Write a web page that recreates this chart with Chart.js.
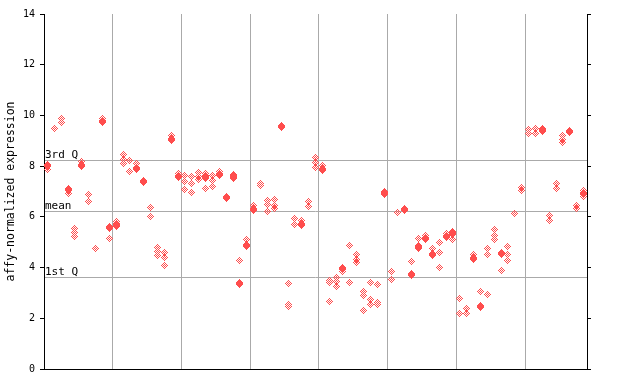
<!DOCTYPE html>
<html><head><meta charset="utf-8">
<script src="https://cdn.jsdelivr.net/npm/chart.js@4/dist/chart.umd.min.js"></script>
<style>html,body{margin:0;padding:0;background:#fff;}</style>
</head><body>
<canvas id="c" width="640" height="384"></canvas>
<script>
// replicate values per sample (hatched markers)
const hatchedValues = [
  [7.85],[9.50],[9.86,9.74],[6.93],[5.55,5.40,5.23],[8.17],[6.90,6.62],[4.77],[9.86],[5.15],
  [5.81,5.62],[8.44,8.27,8.11],[8.24,7.77],[8.12],[],[6.36,6.02],[4.81,4.65,4.48],[4.60,4.40,4.07],[9.19],[7.71],
  [7.63,7.41,7.06],[7.60,7.32,6.98],[7.74,7.61,7.48],[7.70,7.52,7.13],[7.64,7.44,7.20],[7.77],[],[7.68,7.50],[4.28],[5.09],
  [6.45],[7.33,7.25],[6.66,6.47,6.22],[6.69,6.43,6.34],[],[3.38,2.56,2.46],[5.95,5.70],[5.85],[6.62,6.40],[8.36,8.16,7.96],
  [8.04],[3.50,3.42,2.68],[3.62,3.47,3.27],[3.84],[4.86,3.42],[4.52,4.30,4.21],[3.05,2.89,2.31],[3.42,2.76,2.56],[3.34,2.64,2.55],[6.99],
  [3.85,3.54],[6.18],[],[4.25],[5.15,4.75],[5.28],[4.76],[4.99,4.60,4.01],[5.35],[5.43,5.12],
  [2.79,2.17],[2.37,2.20],[4.50],[3.06],[4.76,4.53,2.94],[5.52,5.26,5.11],[3.89],[4.84,4.50,4.29],[6.12],[7.16,7.03],
  [9.45,9.29],[9.50,9.29],[9.50],[6.05,5.84],[7.33,7.13],[9.20,9.06,8.94],[],[6.45,6.31],[7.02,6.81]
];
// highlighted value per sample (solid markers), null if none
const solidValues = [
  8.02,null,null,7.06,null,8.02,null,null,9.75,5.57,
  5.68,null,null,7.90,7.40,null,null,null,9.06,7.60,
  null,null,null,7.61,null,7.66,6.76,7.61,3.36,4.86,
  6.28,null,null,null,9.56,null,null,5.70,null,null,
  7.85,null,null,3.96,null,null,null,null,null,6.91,
  null,null,6.30,3.72,4.85,5.15,4.51,null,5.23,5.35,
  null,null,4.35,2.46,null,null,4.55,null,null,null,
  null,null,9.40,null,null,null,9.38,null,6.94
];
const quartileValues = [3.62, 6.23, 8.23];
const quartileLabels = ['1st Q', 'mean', '3rd Q'];
const yTickValues = [0, 2, 4, 6, 8, 10, 12, 14];
const xGroupLines = [10, 20, 30, 40, 50, 60, 70];
const nSamples = 79;

const RED = '#ff4d4d';
function makeMarker(hatched){
  const w = 7, h = hatched ? 7 : 9;
  const cv = document.createElement('canvas');
  cv.width = w; cv.height = h;
  const c = cv.getContext('2d');
  c.fillStyle = RED;
  if (hatched) {
    for (let dy=-3; dy<=3; dy++) for (let dx=-3; dx<=3; dx++) {
      if (Math.abs(dx)+Math.abs(dy) <= 3 && ((dx+dy) % 2 !== 0)) c.fillRect(dx+3, dy+3, 1, 1);
    }
  } else {
    const widths = [1,3,5,7,7,7,5,3,1];
    widths.forEach((wd, r) => c.fillRect((7-wd)/2, r, wd, 1));
  }
  return cv;
}
const hatchImg = makeMarker(true);
const solidImg = makeMarker(false);

const hatchedPoints = [];
hatchedValues.forEach((arr, i) => arr.forEach(v => hatchedPoints.push({x: i + 0.5, y: v})));
const solidPoints = [];
solidValues.forEach((v, i) => { if (v !== null) solidPoints.push({x: i + 0.5, y: v}); });

const labelPlugin = {
  id: 'qlabels',
  beforeDatasetsDraw(chart){ chart.ctx.imageSmoothingEnabled = false; },
  afterDraw(chart){
    const ctx = chart.ctx, ys = chart.scales.y;
    ctx.save();
    ctx.font = '11px "DejaVu Sans Mono"';
    ctx.fillStyle = '#000';
    ctx.textBaseline = 'alphabetic';
    ctx.textAlign = 'left';
    quartileValues.forEach((v, i) => {
      const py = Math.round(ys.getPixelForValue(v));
      ctx.fillText(quartileLabels[i], chart.chartArea.left + 1, py - 2);
    });
    ctx.restore();
  }
};

const setTicks = vals => s => { s.ticks = vals.map(v => ({value: v})); };

new Chart(document.getElementById('c'), {
  type: 'scatter',
  data: {
    datasets: [
      {data: hatchedPoints, pointStyle: hatchImg, pointRadius: 3, showLine: false},
      {data: solidPoints, pointStyle: solidImg, pointRadius: 3, showLine: false}
    ]
  },
  options: {
    responsive: false,
    animation: false,
    devicePixelRatio: 1,
    layout: {padding: {top: 14, left: 0, right: 0, bottom: 0}},
    plugins: {legend: {display: false}, tooltip: {enabled: false}},
    scales: {
      x: {
        type: 'linear', min: 0, max: nSamples,
        afterBuildTicks: setTicks(xGroupLines),
        ticks: {display: false},
        grid: {color: '#aaaaaa', drawTicks: false, lineWidth: 1},
        border: {display: true, color: '#000'},
        afterFit: s => { s.height = 15; }
      },
      y: {
        min: 0, max: 14, position: 'left',
        afterBuildTicks: setTicks(yTickValues),
        ticks: {font: {family: 'DejaVu Sans Mono', size: 10}, color: '#000', padding: 5},
        grid: {drawOnChartArea: false, drawTicks: true, tickLength: 4, color: '#000'},
        border: {color: '#000'},
        title: {display: true, text: 'affy-normalized expression', color: '#000',
                font: {family: 'DejaVu Sans Mono', size: 11.5}, padding: {top: 4, bottom: 0}},
        afterFit: s => { s.width = 44; }
      },
      y2: {
        min: 0, max: 14, position: 'right',
        afterBuildTicks: setTicks(yTickValues),
        ticks: {callback: () => ''},
        grid: {drawOnChartArea: false, drawTicks: true, tickLength: 4, color: '#000'},
        border: {color: '#000'},
        afterFit: s => { s.width = 53; }
      },
      yq: {
        min: 0, max: 14, position: 'left',
        afterBuildTicks: setTicks(quartileValues),
        ticks: {display: false},
        grid: {color: '#aaaaaa', drawTicks: false, lineWidth: 1},
        border: {display: false},
        afterFit: s => { s.width = 0; }
      }
    }
  },
  plugins: [labelPlugin]
});
</script>
</body></html>
